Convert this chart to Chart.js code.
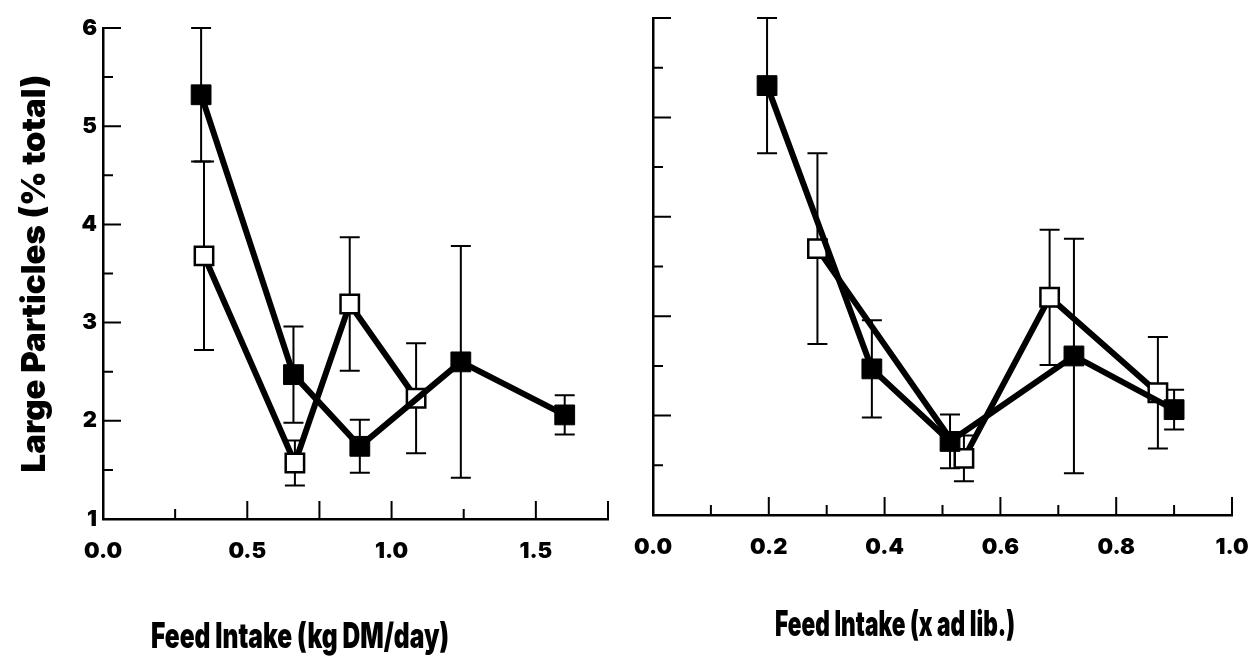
<!DOCTYPE html>
<html><head><meta charset="utf-8">
<script src="https://cdn.jsdelivr.net/npm/chart.js@4.4.1/dist/chart.umd.min.js"></script>
<style>
html,body{margin:0;padding:0;background:#fff;width:1252px;height:661px;overflow:hidden}
canvas{position:absolute;top:0}
#left{left:0}
#right{left:630px}
</style></head><body>
<canvas id="left" width="630" height="661"></canvas>
<canvas id="right" width="622" height="661"></canvas>
<script>
// ---- data ----
const filledY      = [5.32, 2.47, 1.74, 2.60, 2.06];
const filledErr    = [0.68, 0.49, 0.27, 1.18, 0.20];
const openY        = [3.68, 1.57, 3.19, 2.23];
const openErr      = [0.96, 0.23, 0.68, 0.56];
const leftFilledX  = [0.34, 0.66, 0.89, 1.24, 1.60];
const leftOpenX    = [0.35, 0.665, 0.855, 1.085];
const rightFilledX = [0.197, 0.378, 0.513, 0.727, 0.90];
const rightOpenX   = [0.284, 0.537, 0.685, 0.872];
const yTicks = {min: 1, max: 6, step: 0.5, labelEvery: 1};
const leftXTicks  = {min: 0, max: 1.75, step: 0.25, labelEvery: 0.5};
const rightXTicks = {min: 0, max: 1.0, step: 0.1, labelEvery: 0.2};
const yTitle = 'Large Particles (% total)';
const leftXTitle = 'Feed Intake (kg DM/day)';
const rightXTitle = 'Feed Intake (x ad lib.)';

const FONT = "Inter, Lato, 'Open Sans', 'DejaVu Sans', sans-serif";
const isMult = (v, s) => Math.abs(v / s - Math.round(v / s)) < 1e-6;

const errorBars = {
  id: 'errorBars',
  beforeDatasetsDraw(chart) {
    const {ctx, scales: {x, y}} = chart;
    ctx.save();
    ctx.strokeStyle = '#000'; ctx.lineWidth = 2;
    chart.data.datasets.forEach(ds => {
      ds.data.forEach((p, i) => {
        const e = ds.errors[i];
        const px = x.getPixelForValue(p.x);
        const yt = y.getPixelForValue(p.y + e), yb = y.getPixelForValue(p.y - e);
        ctx.beginPath();
        ctx.moveTo(px, yt); ctx.lineTo(px, yb);
        ctx.moveTo(px - 10, yt); ctx.lineTo(px + 10, yt);
        ctx.moveTo(px - 10, yb); ctx.lineTo(px + 10, yb);
        ctx.stroke();
      });
    });
    ctx.restore();
  }
};

const inwardTicks = {
  id: 'inwardTicks',
  afterDraw(chart, args, o) {
    const {ctx, chartArea: a, scales: {x, y}} = chart;
    ctx.save();
    ctx.strokeStyle = '#000'; ctx.lineWidth = 2;
    ctx.beginPath();
    x.ticks.forEach(t => {
      const px = x.getPixelForValue(t.value);
      const len = (isMult(t.value, o.xMajor) || isMult(t.value - x.max, 1)) ? 18 : 10;
      ctx.moveTo(px, a.bottom); ctx.lineTo(px, a.bottom - len);
    });
    y.ticks.forEach(t => {
      const py = y.getPixelForValue(t.value);
      const len = isMult(t.value, o.yMajor) ? 18 : 10;
      ctx.moveTo(a.left, py); ctx.lineTo(a.left + len, py);
    });
    ctx.stroke();
    ctx.restore();
  }
};

const bottomTitle = {
  id: 'bottomTitle',
  afterDraw(chart, args, o) {
    const ctx = chart.ctx;
    ctx.save();
    ctx.font = o.font; ctx.fillStyle = '#000';
    ctx.textAlign = 'center'; ctx.textBaseline = 'middle';
    ctx.fillText(o.text, o.cx, o.cy, o.maxWidth);
    ctx.restore();
  }
};

function makeChart(id, fx, ox, xt, opts) {
  return new Chart(document.getElementById(id), {
    type: 'scatter',
    data: {
      datasets: [
        {
          label: 'filled',
          data: fx.map((x, i) => ({x, y: filledY[i]})),
          errors: filledErr,
          showLine: true, borderColor: '#000', borderWidth: 6,
          pointStyle: 'rect', pointRadius: 14, pointBorderWidth: 1,
          pointBackgroundColor: '#000', pointBorderColor: '#000',
          order: 0
        },
        {
          label: 'open',
          data: ox.map((x, i) => ({x, y: openY[i]})),
          errors: openErr,
          showLine: true, borderColor: '#000', borderWidth: 6,
          pointStyle: 'rect', pointRadius: 13, pointBorderWidth: 2.5,
          pointBackgroundColor: '#fff', pointBorderColor: '#000',
          order: 1
        }
      ]
    },
    options: {
      responsive: false, animation: false, devicePixelRatio: 1, events: [],
      layout: {padding: opts.padding},
      plugins: {
        legend: {display: false}, tooltip: {enabled: false},
        inwardTicks: {xMajor: xt.labelEvery, yMajor: yTicks.labelEvery},
        bottomTitle: opts.bottomTitle
      },
      scales: {
        x: {
          type: 'linear', min: xt.min, max: xt.max,
          grid: {display: false, drawTicks: false},
          border: {display: true, color: '#000', width: 2.5},
          ticks: {
            stepSize: xt.step, autoSkip: false, maxRotation: 0, padding: 19,
            color: '#000', font: {family: FONT, size: 22, weight: '900'},
            callback: v => isMult(v, xt.labelEvery) ? v.toFixed(1) : ''
          },
          afterFit: s => { s.height = opts.xHeight; s.paddingLeft = 0; s.paddingRight = 0; }
        },
        y: {
          type: 'linear', min: yTicks.min, max: yTicks.max,
          grid: {display: false, drawTicks: false},
          border: {display: true, color: '#000', width: 2.5},
          title: opts.yTitle,
          ticks: {
            stepSize: yTicks.step, autoSkip: false, padding: 6,
            color: '#000', font: {family: FONT, size: 22, weight: '900'},
            callback: v => (opts.yLabels && isMult(v, yTicks.labelEvery)) ? String(v) : ''
          },
          afterFit: s => { s.width = opts.yWidth; s.paddingTop = 0; s.paddingBottom = 0; }
        }
      }
    },
    plugins: [errorBars, inwardTicks, bottomTitle]
  });
}

makeChart('left', leftFilledX, leftOpenX, leftXTicks, {
  padding: {top: 28, right: 22, left: 0, bottom: 0},
  xHeight: 661 - 519, yWidth: 103, yLabels: true,
  yTitle: {display: true, text: yTitle, color: '#000', padding: {top: 15, bottom: 0},
           font: {family: FONT, size: 33, weight: '900'}},
  bottomTitle: {text: leftXTitle, cx: 300, cy: 637, maxWidth: 298,
                font: "900 35px " + FONT}
});

makeChart('right', rightFilledX, rightOpenX, rightXTicks, {
  padding: {top: 18, right: 20, left: 0, bottom: 0},
  xHeight: 661 - 515, yWidth: 23, yLabels: false,
  yTitle: {display: false},
  bottomTitle: {text: rightXTitle, cx: 265, cy: 625, maxWidth: 240,
                font: "900 35px " + FONT}
});
</script>
</body></html>
